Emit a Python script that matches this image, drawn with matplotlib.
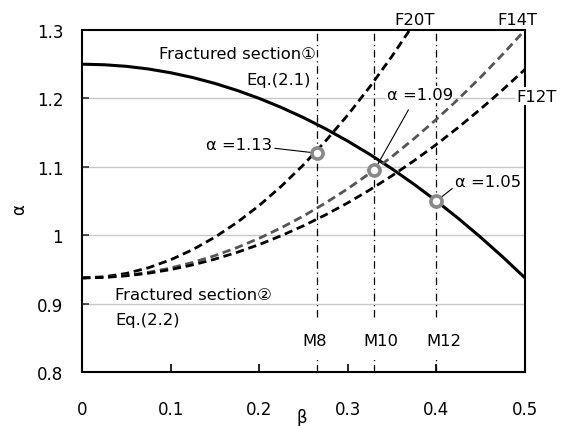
import matplotlib
matplotlib.use("Agg")
import matplotlib.pyplot as plt

plt.rcParams['font.family'] = ['DejaVu Sans', 'Noto Sans CJK JP']

beta = [0.0, 0.025, 0.05, 0.075, 0.1, 0.125, 0.15, 0.175, 0.2, 0.225, 0.25,
        0.275, 0.3, 0.325, 0.35, 0.375, 0.4, 0.425, 0.45, 0.475, 0.5]
section1 = [1.2500, 1.2492, 1.2469, 1.2430, 1.2375, 1.2305, 1.2219, 1.2117, 1.2000,
            1.1867, 1.1719, 1.1555, 1.1375, 1.1180, 1.0969, 1.0742, 1.0500, 1.0242,
            0.9969, 0.9680, 0.9375]
beta_f20 = [0.0, 0.025, 0.05, 0.075, 0.1, 0.125, 0.15, 0.175, 0.2, 0.225, 0.25,
            0.275, 0.3, 0.325, 0.35, 0.375]
f20t = [0.9375, 0.9392, 0.9441, 0.9524, 0.9640, 0.9789, 0.9971, 1.0186, 1.0434,
        1.0716, 1.1030, 1.1378, 1.1758, 1.2172, 1.2619, 1.3099]
f14t = [0.9375, 0.9384, 0.9411, 0.9457, 0.9520, 0.9602, 0.9701, 0.9819, 0.9955,
        1.0109, 1.0281, 1.0472, 1.0680, 1.0907, 1.1151, 1.1414, 1.1695, 1.1994,
        1.2311, 1.2647, 1.3000]
f12t = [0.9375, 0.9383, 0.9406, 0.9444, 0.9497, 0.9566, 0.9650, 0.9749, 0.9863,
        0.9993, 1.0138, 1.0298, 1.0473, 1.0664, 1.0870, 1.1091, 1.1327, 1.1579,
        1.1846, 1.2128, 1.2425]

bolt_names = ['M8', 'M10', 'M12']
bolt_beta = [0.265, 0.33, 0.40]
pt_beta = [0.265, 0.33, 0.40]
pt_alpha = [1.12, 1.095, 1.05]
pt_labels = ['α =1.13', 'α =1.09', 'α =1.05']

xticks = [0, 0.1, 0.2, 0.3, 0.4, 0.5]
xticklabels = ['0', '0.1', '0.2', '0.3', '0.4', '0.5']
yticks = [0.8, 0.9, 1.0, 1.1, 1.2, 1.3]
yticklabels = ['0.8', '0.9', '1', '1.1', '1.2', '1.3']

fig = plt.figure(figsize=(5.62, 4.27), dpi=100)
ax = fig.add_axes([0.1459, 0.1265, 0.7883, 0.8009])
ax.set_xlim(0, 0.5)
ax.set_ylim(0.8, 1.3)

for y in yticks[1:-1]:
    ax.axhline(y, color='#c8c8c8', lw=1.0, zorder=0)

for b in bolt_beta:
    ax.axvline(b, ymin=0.0, ymax=0.038, color='black', lw=0.9, linestyle=(0, (6, 3, 1, 3)), zorder=1)
    ax.axvline(b, ymin=0.16, ymax=1.0, color='black', lw=0.9, linestyle=(0, (6, 3, 1, 3)), zorder=1)

dash = (0, (3.0, 1.7))
ax.plot(beta, section1, color='black', lw=2.2, zorder=3)
ax.plot(beta_f20, f20t, color='black', lw=2.0, linestyle=dash, zorder=3)
ax.plot(beta, f14t, color='#555555', lw=2.0, linestyle=dash, zorder=3)
ax.plot(beta, f12t, color='black', lw=2.0, linestyle=dash, zorder=3)

ax.plot(pt_beta, pt_alpha, linestyle='none', marker='o', ms=8, mfc='white',
        mec='#888888', mew=2.6, zorder=5)

fs = 11.8
ax.annotate(pt_labels[0], xy=(pt_beta[0], pt_alpha[0]), xytext=(0.2145, 1.133),
            ha='right', va='center', fontsize=fs,
            arrowprops=dict(arrowstyle='-', color='black', lw=0.8, shrinkA=0, shrinkB=4))
ax.annotate(pt_labels[1], xy=(pt_beta[1], pt_alpha[1]), xytext=(0.381, 1.206),
            ha='center', va='center', fontsize=fs,
            bbox=dict(boxstyle='square,pad=0.05', fc='white', ec='none'),
            arrowprops=dict(arrowstyle='-', color='black', lw=0.8, shrinkA=6, shrinkB=4,
                            relpos=(0.4, 0.0)))
ax.annotate(pt_labels[2], xy=(pt_beta[2], pt_alpha[2]), xytext=(0.421, 1.078),
            ha='left', va='center', fontsize=fs,
            arrowprops=dict(arrowstyle='-', color='black', lw=0.8, shrinkA=0, shrinkB=4,
                            relpos=(0.0, 0.2)))

ax.text(0.2634, 1.265, 'Fractured section①', ha='right', va='center', fontsize=fs)
ax.text(0.258, 1.228, 'Eq.(2.1)', ha='right', va='center', fontsize=fs)
ax.text(0.0375, 0.914, 'Fractured section②', ha='left', va='center', fontsize=fs)
ax.text(0.0375, 0.877, 'Eq.(2.2)', ha='left', va='center', fontsize=fs)

ax.text(0.375, 1.316, 'F20T', ha='center', va='center', fontsize=fs, clip_on=False)
ax.text(0.491, 1.316, 'F14T', ha='center', va='center', fontsize=fs, clip_on=False)
ax.text(0.490, 1.203, 'F12T', ha='left', va='center', fontsize=fs, clip_on=False,
        bbox=dict(boxstyle='square,pad=0.1', fc='white', ec='none'))

m_pos = [0.263, 0.337, 0.408]
for name, xb in zip(bolt_names, m_pos):
    ax.text(xb, 0.846, name, ha='center', va='center', fontsize=fs)

ax.set_xticks(xticks)
ax.set_xticklabels(xticklabels)
ax.set_yticks(yticks)
ax.set_yticklabels(yticklabels)
ax.tick_params(axis='x', direction='in', length=6, width=1.2, pad=20, labelsize=12)
ax.tick_params(axis='y', direction='in', length=5, width=1.2, pad=13.5, labelsize=12,
               color='#333333')
for s in ax.spines.values():
    s.set_linewidth(1.5)

ax.set_xlabel('β', fontsize=12, va='center')
ax.set_ylabel('α', fontsize=12, va='center')
ax.xaxis.set_label_coords(0.497, -0.132)
ax.yaxis.set_label_coords(-0.142, 0.477)

fig.savefig('out.png', dpi=100)
